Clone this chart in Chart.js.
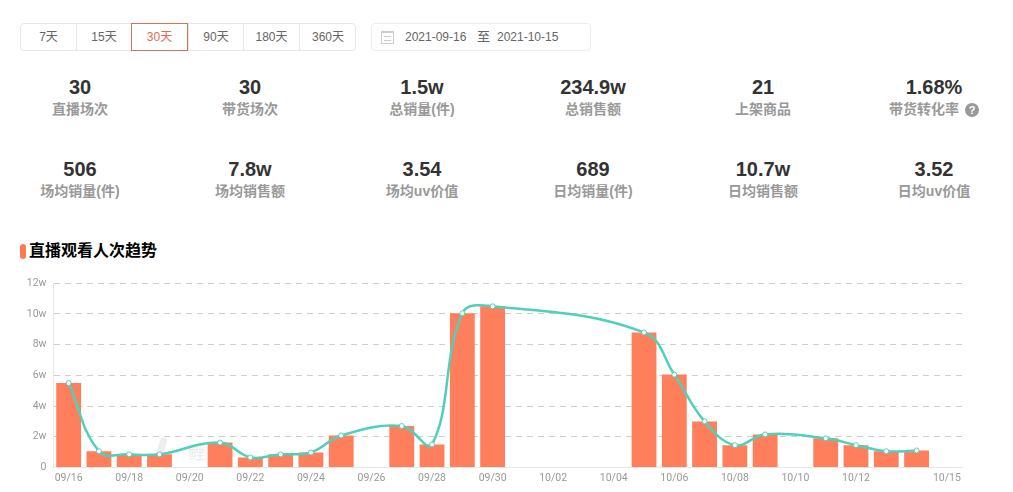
<!DOCTYPE html>
<html>
<head>
<meta charset="utf-8">
<script src="https://cdn.jsdelivr.net/npm/chart.js@4"></script>
<style>
  html, body { margin: 0; padding: 0; background: #fff; }
  body { width: 1013px; height: 492px; position: relative; overflow: hidden; font-family: "Liberation Sans", "Noto Sans CJK SC", sans-serif; }
  .tabs { position: absolute; left: 20px; top: 23px; width: 336px; height: 28px; border: 1px solid #e6e6e6; border-radius: 4px; box-sizing: border-box; }
  .tab { position: absolute; top: -1px; height: 28px; line-height: 28px; text-align: center; font-size: 12px; color: #666; box-sizing: border-box; border-left: 1px solid #e6e6e6; }
  .tab.first { border-left: 0; }
  .tab.on { color: #e5694f; border: 1px solid #d9705a; line-height: 26px; z-index: 1; }
  .dates { position: absolute; left: 371px; top: 23px; width: 220px; height: 28px; border: 1px solid #ececec; border-radius: 4px; box-sizing: border-box; font-size: 12px; line-height: 26px; color: #666; }
  .dates span { position: absolute; top: 0; white-space: nowrap; }
  .cal { position: absolute; left: 9px; top: 7px; width: 13px; height: 13px; box-sizing: border-box; border: 1px solid #ccc; border-top-width: 2px; }
  .cal:after { content: ""; position: absolute; left: 2px; right: 2px; top: 3px; height: 3px; border-top: 1px solid #ccc; border-bottom: 1px solid #ccc; }
  .val, .lab { position: absolute; width: 160px; margin-left: -80px; text-align: center; white-space: nowrap; }
  .val { font-size: 20px; font-weight: bold; color: #333; line-height: 24px; }
  .lab { font-size: 14px; font-weight: bold; color: #999; line-height: 18px; }
  .help { display: inline-block; width: 14px; height: 14px; line-height: 14px; border-radius: 50%; background: #999; color: #fff; font-size: 11px; text-align: center; margin-left: 6px; vertical-align: 0; }
  .title { position: absolute; left: 29px; top: 240px; font-size: 16px; font-weight: bold; color: #000; line-height: 22px; }
  .mark { position: absolute; left: 20px; top: 244px; width: 6px; height: 15px; border-radius: 3px; background: #ff7a50; }
  .wm { position: absolute; left: 188px; top: 444px; font-size: 17px; line-height: 20px; color: #ececec; }
  .wm-logo { position: absolute; left: 157px; top: 437px; width: 7px; height: 27px; border-radius: 3px; background: #eeeeee; transform: rotate(18deg); }
  .box { position: absolute; left: 0; top: 270px; width: 1013px; height: 222px; }
</style>
</head>
<body>
<div class="tabs" id="tabs"></div>
<div class="dates"><i class="cal"></i><span style="left:33px">2021-09-16</span><span style="left:105px;font-size:13px">至</span><span style="left:125px">2021-10-15</span></div>
<div id="stats"></div>
<div class="mark"></div>
<div class="title">直播观看人次趋势</div>
<div class="wm-logo"></div>
<div class="wm">鲤</div>
<div class="box"><canvas id="trend"></canvas></div>

<script>
// top of page
var tabNames = ['7天', '15天', '30天', '90天', '180天', '360天'];
var tabEdges = [0, 55, 110, 167, 222, 278, 335];
var statValues = ['30', '30', '1.5w', '234.9w', '21', '1.68%', '506', '7.8w', '3.54', '689', '10.7w', '3.52'];
var statNames = ['直播场次', '带货场次', '总销量(件)', '总销售额', '上架商品', '带货转化率', '场均销量(件)', '场均销售额', '场均uv价值', '日均销量(件)', '日均销售额', '日均uv价值'];

// chart data, unit is w (10k). null = no live that day
var days = ['09/16','09/17','09/18','09/19','09/20','09/21','09/22','09/23','09/24','09/25','09/26','09/27','09/28','09/29','09/30',
  '10/01','10/02','10/03','10/04','10/05','10/06','10/07','10/08','10/09','10/10','10/11','10/12','10/13','10/14','10/15'];
var viewers = [5.5, 1.05, 0.85, 0.85, null, 1.62, 0.65, 0.85, 0.97, 2.08, null, 2.7, 1.5, 10.05, 10.5,
  null, null, null, null, 8.8, 6.05, 3.0, 1.45, 2.15, null, 1.9, 1.45, 1.05, 1.1, null];
var yTicks = [0, 2, 4, 6, 8, 10, 12];

var tabs = document.getElementById('tabs');
tabNames.forEach(function(name, i) {
    var t = document.createElement('div');
    t.className = 'tab' + (i == 0 ? ' first' : '') + (i == 2 ? ' on' : '');
    t.style.left = tabEdges[i] + 'px';
    t.style.width = (tabEdges[i + 1] - tabEdges[i]) + 'px';
    t.textContent = name;
    tabs.appendChild(t);
});

var colX = [80, 250, 422, 593, 763, 934];
var stats = document.getElementById('stats');
statValues.forEach(function(v, i) {
    var row = Math.floor(i / 6);
    var x = colX[i % 6];
    var val = document.createElement('div');
    val.className = 'val';
    val.style.left = x + 'px';
    val.style.top = (75 + row * 82) + 'px';
    val.textContent = v;
    var lab = document.createElement('div');
    lab.className = 'lab';
    lab.style.left = x + 'px';
    lab.style.top = (100 + row * 82) + 'px';
    lab.textContent = statNames[i];
    if (i == 5) {
        lab.innerHTML = statNames[i] + '<span class="help">?</span>';
    }
    stats.appendChild(val);
    stats.appendChild(lab);
});

const myChart = new Chart(document.getElementById('trend'), {
    data: {
        labels: days,
        datasets: [{
            type: 'line',
            data: viewers,
            borderColor: '#4fd0b8',
            borderWidth: 2.5,
            backgroundColor: '#fff',
            pointBorderColor: '#4fd0b8',
            pointBorderWidth: 1,
            pointRadius: 2.5,
            spanGaps: true,
            tension: 0.4,
            order: 1
        }, {
            type: 'bar',
            data: viewers,
            backgroundColor: '#ff7f5c',
            barPercentage: 0.82,
            categoryPercentage: 1,
            order: 2
        }]
    },
    options: {
        responsive: true,
        maintainAspectRatio: false,
        animation: false,
        layout: { padding: { left: 0, right: 51, top: 12, bottom: 2 } },
        plugins: { legend: { display: false }, tooltip: { enabled: false } },
        scales: {
            x: {
                grid: { display: false, drawTicks: false },
                border: { color: '#e6e6e6' },
                ticks: {
                    autoSkip: false,
                    maxRotation: 0,
                    padding: 5,
                    color: '#999',
                    font: { size: 10.5, family: 'Roboto, "Liberation Sans"' },
                    callback: function(value, index) {
                        if (index == days.length - 1) return days[index];
                        if (index % 2 == 0 && index < days.length - 2) return days[index];
                        return '';
                    }
                }
            },
            y: {
                min: 0,
                max: 12,
                afterFit: function(axis) { axis.width = 53.5; },
                afterBuildTicks: function(axis) {
                    axis.ticks = yTicks.map(function(v) { return { value: v }; });
                },
                grid: { color: '#cfcfcf', drawTicks: false },
                border: { color: '#e6e6e6', dash: [6, 5] },
                ticks: {
                    padding: 7,
                    color: '#999',
                    font: { size: 10.5, family: 'Roboto, "Liberation Sans"' },
                    callback: function(value) { return value == 0 ? '0' : value + 'w'; }
                }
            }
        }
    }
});
</script>
</body>
</html>
